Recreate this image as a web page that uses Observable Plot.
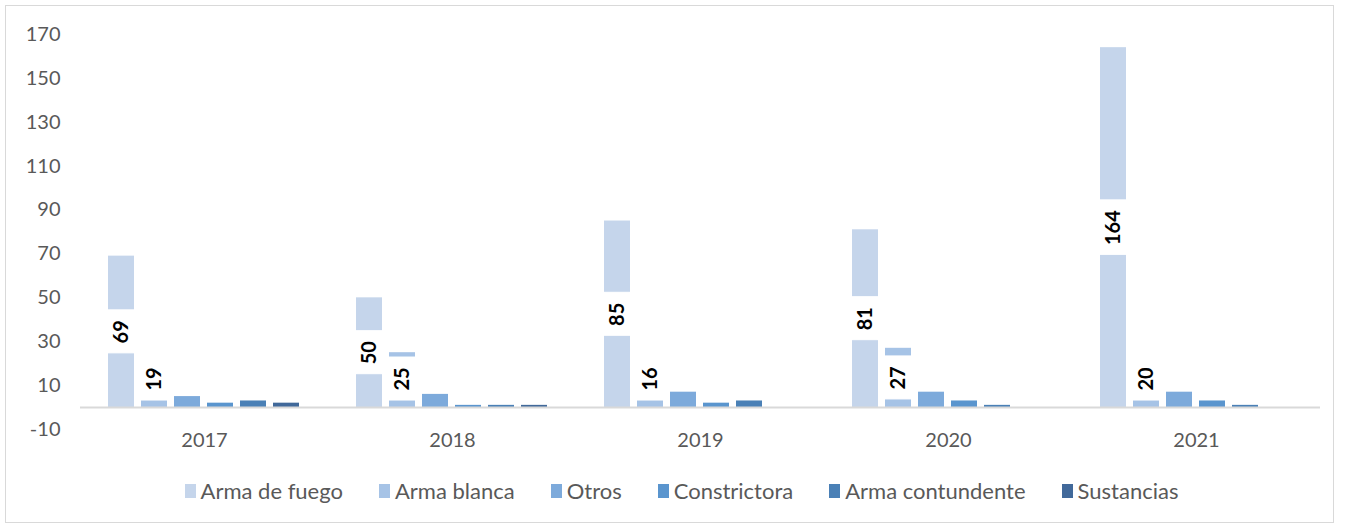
<!DOCTYPE html>
<html>
<head>
<meta charset="utf-8">
<script src="https://cdn.jsdelivr.net/npm/d3@7"></script>
<script src="https://cdn.jsdelivr.net/npm/@observablehq/plot@0.6"></script>
<style>
  html, body { margin: 0; padding: 0; background: #fff; overflow: hidden; }
  #wrap { position: relative; width: 1351px; height: 526px; font-family: Lato, "Open Sans", sans-serif; }
  #frame { position: absolute; left: 5px; top: 5px; width: 1329px; height: 518px; border: 1px solid #d9d9d9; box-sizing: border-box; }
  #chart { position: absolute; left: 0; top: 0; }
  #legend { position: absolute; top: 478px; left: 0; width: 1363px; display: flex; justify-content: center; gap: 36px; font-size: 22px; color: #595959; line-height: 26px; }
  .item { display: flex; align-items: center; }
  .sw { width: 11px; height: 14px; margin-right: 5px; }
</style>
</head>
<body>
<div id="wrap">
  <div id="frame"></div>
  <div id="chart"></div>
  <div id="legend"></div>
</div>
<script>
const years = ["2017", "2018", "2019", "2020", "2021"];
const series = ["Arma de fuego", "Arma blanca", "Otros", "Constrictora", "Arma contundente", "Sustancias"];
const colors = ["#c5d5eb", "#a6c3e6", "#7daadb", "#5a95ce", "#4a80b6", "#41699a"];
const armaDeFuego     = [69, 50, 85, 81, 164];
const armaBlanca      = [19, 25, 16, 27, 20];
const otros           = [5, 6, 7, 7, 7];
const constrictora    = [2, 1, 2, 3, 3];
const armaContundente = [3, 1, 3, 1, 1];
const sustancias      = [2, 1, 0, 0, 0];
const yTicks = [-10, 10, 30, 50, 70, 90, 110, 130, 150, 170];
const labeledSeries = ["Arma de fuego", "Arma blanca"];

const valuesBySeries = [armaDeFuego, armaBlanca, otros, constrictora, armaContundente, sustancias];
const data = [];
series.forEach((s, i) => {
  years.forEach((y, j) => {
    data.push({ year: y, series: s, value: valuesBySeries[i][j] });
  });
});

// Data labels (centered in bar, kept clear of the baseline) with white boxes
const labels = data
  .filter(d => labeledSeries.includes(d.series))
  .map(d => {
    const txt = String(d.value);
    const ly = Math.max(d.value / 2, 13);
    const half = (5.75 * txt.length + 10) / 2.194;
    return { ...d, txt, ly, half };
  });

const chart = Plot.plot({
  width: 1351,
  height: 460,
  marginTop: 34,
  marginBottom: 31,
  marginLeft: 79,
  marginRight: 31,
  style: { fontFamily: "Lato, 'Open Sans', sans-serif", fontSize: "20px", color: "#595959", background: "transparent" },
  fx: { domain: years, padding: 0, label: null, axis: "bottom", tickSize: 0, tickPadding: 3 },
  x: { domain: series, paddingInner: 0.212, paddingOuter: 0.84, axis: null },
  y: { domain: [-10, 170], ticks: yTicks, tickSize: 0, tickPadding: 20, label: null, tickFormat: d => String(d) },
  color: { domain: series, range: colors },
  marks: [
    Plot.barY(data, { fx: "year", x: "series", y: "value", fill: "series" }),
    Plot.barY(labels, { fx: "year", x: "series", y1: d => d.ly - d.half, y2: d => d.ly + d.half, fill: "white", stroke: "white", strokeWidth: 1 }),
    Plot.ruleY([0], { stroke: "#d9d9d9", strokeWidth: 2 }),
    Plot.text(labels, { fx: "year", x: "series", y: "ly", text: "txt", rotate: -90, fill: "#000", fontWeight: "bold", fontSize: 20, fontFamily: "Lato, sans-serif" })
  ]
});
document.getElementById("chart").appendChild(chart);

const legend = document.getElementById("legend");
series.forEach((s, i) => {
  const item = document.createElement("div");
  item.className = "item";
  const sw = document.createElement("span");
  sw.className = "sw";
  sw.style.background = colors[i];
  const t = document.createElement("span");
  t.textContent = s;
  item.appendChild(sw);
  item.appendChild(t);
  legend.appendChild(item);
});
</script>
</body>
</html>
